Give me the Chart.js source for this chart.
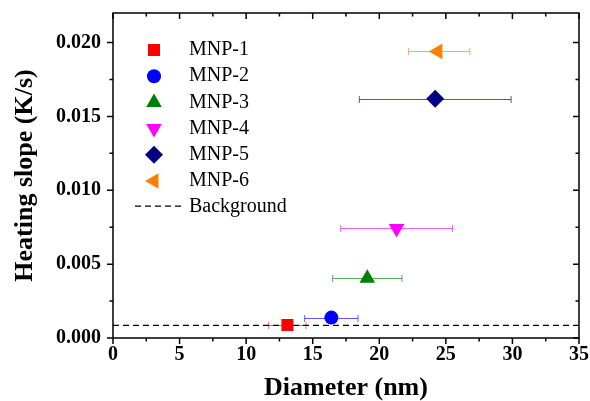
<!DOCTYPE html>
<html>
<head>
<meta charset="utf-8">
<script src="https://cdn.jsdelivr.net/npm/chart.js"></script>
<style>
  body { margin: 0; background: #fff; }
  #wrap { width: 590px; height: 401px; }
</style>
</head>
<body>
<div id="wrap"><canvas id="chart"></canvas></div>
<script>
// values
const samples = ["MNP-1", "MNP-2", "MNP-3", "MNP-4", "MNP-5", "MNP-6"];
const diameters = [13.1, 16.4, 19.1, 21.3, 24.2, 24.4];
const diameterLow = [11.7, 14.4, 16.5, 17.1, 18.5, 22.2];
const diameterHigh = [14.5, 18.4, 21.7, 25.5, 29.9, 26.8];
const slopes = [0.00088, 0.00138, 0.00405, 0.00742, 0.0162, 0.0194];
const backgroundSlope = 0.00085;
const xRange = [0, 35];

const colors = ["#ff0000", "#0000ff", "#008000", "#ff00ff", "#000080", "#ff8000"];
const styles = ["rect", "circle", "triangle", "triangle", "rectRot", "triangle"];
const rotations = [0, 0, 0, 180, 0, 270];
const radii = [8.5, 7, 9, 9, 9, 9];

const serif = "'Liberation Serif', 'Times New Roman', serif";

const datasets = samples.map((name, i) => ({
  label: name,
  data: [{ x: diameters[i], y: slopes[i] }],
  backgroundColor: colors[i],
  borderColor: colors[i],
  borderWidth: 0,
  pointStyle: styles[i],
  rotation: rotations[i],
  pointRadius: radii[i],
  pointHoverRadius: radii[i],
}));

datasets.push({
  type: "line",
  label: "Background",
  data: xRange.map((x) => ({ x: x, y: backgroundSlope })),
  borderColor: "#000",
  borderWidth: 1.3,
  borderDash: [6, 4],
  pointRadius: 0,
});

// no extra room for tick labels at the ends, keeps the plot box fixed
function fixBox(size) {
  return (s) => {
    if (s.isHorizontal()) s.height = size; else s.width = size;
    s.paddingTop = s.paddingBottom = s.paddingLeft = s.paddingRight = 0;
  };
}

// horizontal error bars, drawn under the markers
const errorBars = {
  id: "errorBars",
  beforeDatasetsDraw(chart) {
    const { ctx, scales: { x, y } } = chart;
    ctx.save();
    ctx.lineWidth = 1;
    samples.forEach((_, i) => {
      const py = Math.round(y.getPixelForValue(slopes[i])) + 0.5;
      const x0 = x.getPixelForValue(diameterLow[i]);
      const x1 = x.getPixelForValue(diameterHigh[i]);
      ctx.strokeStyle = colors[i];
      ctx.globalAlpha = 0.65;
      ctx.beginPath();
      ctx.moveTo(x0, py); ctx.lineTo(x1, py);
      ctx.moveTo(x0, py - 3.5); ctx.lineTo(x0, py + 3.5);
      ctx.moveTo(x1, py - 3.5); ctx.lineTo(x1, py + 3.5);
      ctx.stroke();
    });
    ctx.restore();
  },
};

// frame, tick marks and the legend inside the plot
const frame = {
  id: "frame",
  afterDraw(chart) {
    const { ctx, chartArea: a, scales: { x, y } } = chart;
    ctx.save();
    ctx.strokeStyle = "#000";
    ctx.lineWidth = 1.5;
    ctx.strokeRect(a.left, a.top, a.right - a.left, a.bottom - a.top);

    ctx.beginPath();
    const xt = x.ticks.map((t) => t.value);
    const step = xt[1] - xt[0];
    xt.forEach((v) => {
      const px = x.getPixelForValue(v);
      ctx.moveTo(px, a.bottom); ctx.lineTo(px, a.bottom + 6);
      ctx.moveTo(px, a.top); ctx.lineTo(px, a.top + 6);
      const m = v + step / 2;
      if (m < x.max) {
        const pm = x.getPixelForValue(m);
        ctx.moveTo(pm, a.bottom); ctx.lineTo(pm, a.bottom + 3.5);
        ctx.moveTo(pm, a.top); ctx.lineTo(pm, a.top + 3.5);
      }
    });
    const yt = y.ticks.map((t) => t.value);
    const ystep = yt[1] - yt[0];
    yt.forEach((v) => {
      const py = y.getPixelForValue(v);
      ctx.moveTo(a.left, py); ctx.lineTo(a.left - 6, py);
      ctx.moveTo(a.right, py); ctx.lineTo(a.right - 6, py);
      const m = v + ystep / 2;
      if (m < y.max) {
        const pm = y.getPixelForValue(m);
        ctx.moveTo(a.left, pm); ctx.lineTo(a.left - 3.5, pm);
        ctx.moveTo(a.right, pm); ctx.lineTo(a.right - 3.5, pm);
      }
    });
    ctx.stroke();

    // legend
    const lx = a.left + 41, ty = a.top + 37, gap = 26.2;
    ctx.font = "20px " + serif;
    ctx.textBaseline = "middle";
    ctx.fillStyle = "#000";
    chart.data.datasets.forEach((ds, i) => {
      const ly = ty + i * gap;
      if (ds.type === "line") {
        ctx.save();
        ctx.strokeStyle = "#000";
        ctx.lineWidth = 1.3;
        ctx.setLineDash([6, 4]);
        ctx.beginPath();
        ctx.moveTo(a.left + 22, ly - 1); ctx.lineTo(a.left + 70, ly - 1);
        ctx.stroke();
        ctx.restore();
      } else {
        ctx.fillStyle = ds.backgroundColor;
        Chart.helpers.drawPoint(ctx, {
          pointStyle: ds.pointStyle, rotation: ds.rotation,
          radius: ds.pointRadius, borderWidth: 0,
        }, lx, ly);
        ctx.fillStyle = "#000";
      }
      ctx.fillText(ds.label, a.left + 76, ly);
    });
    ctx.restore();
  },
};

new Chart(document.getElementById("chart"), {
  type: "scatter",
  data: { datasets: datasets },
  options: {
    responsive: true,
    maintainAspectRatio: false,
    animation: false,
    layout: { padding: { top: 13, right: 11, left: 0, bottom: 0 } },
    plugins: { legend: { display: false }, tooltip: { enabled: false } },
    scales: {
      x: {
        type: "linear",
        min: xRange[0],
        max: xRange[1],
        afterFit: fixBox(63),
        grid: { display: false, drawTicks: false },
        border: { display: false },
        ticks: {
          stepSize: 5, includeBounds: false, padding: 5, color: "#000",
          font: { family: serif, size: 20, weight: "bold" },
        },
        title: {
          display: true, text: "Diameter (nm)", color: "#000",
          padding: { top: 0, bottom: 0 },
          font: { family: serif, size: 26, weight: "bold", lineHeight: 1 },
        },
      },
      y: {
        min: 0,
        max: 0.022,
        afterFit: fixBox(113),
        grid: { display: false, drawTicks: false },
        border: { display: false },
        ticks: {
          stepSize: 0.005, includeBounds: false, padding: 12, color: "#000",
          font: { family: serif, size: 20, weight: "bold" },
          callback: (v) => v.toFixed(3),
        },
        title: {
          display: true, text: "Heating slope (K/s)", color: "#000",
          padding: { top: 12, bottom: 0 },
          font: { family: serif, size: 26, weight: "bold", lineHeight: 1 },
        },
      },
    },
  },
  plugins: [errorBars, frame],
});
</script>
</body>
</html>
